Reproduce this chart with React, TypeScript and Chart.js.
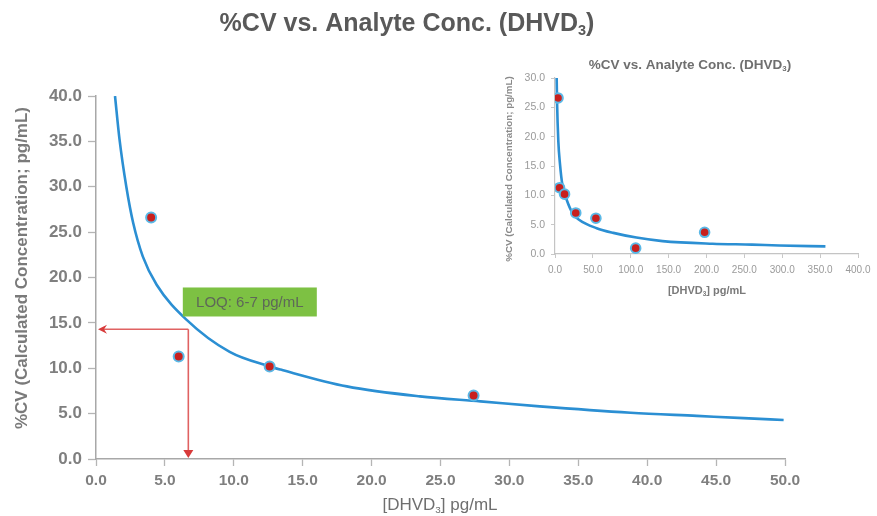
import React, { useEffect, useRef } from "react";
import { Chart, registerables } from "chart.js";

Chart.register(...registerables);

// ---------- data ----------
const mainCurveX = [1.38, 1.7, 2.2, 2.7, 3.4, 4.4, 6.6, 9.7, 12.6, 13.4, 18.2, 23.5, 27.9, 32.2, 38.8, 43.6, 47.0, 49.9];
const mainCurveY = [40.0, 35.3, 30.0, 26.0, 22.3, 19.2, 15.3, 11.8, 10.2, 9.85, 8.0, 6.9, 6.35, 5.8, 5.1, 4.75, 4.5, 4.3];
const measuredX = [4.0, 6.0, 12.6, 27.4];
const measuredY = [26.6, 11.3, 10.2, 7.0];

const insetCurveX = [1.38, 1.7, 2.2, 2.7, 4.4, 6.6, 9.7, 15.4, 23.5, 32.2, 55, 77, 107.5, 142, 208, 260, 296, 357];
const insetCurveY = [40.0, 35.3, 30.0, 26.0, 19.2, 15.3, 11.8, 9.25, 6.9, 5.8, 4.4, 3.6, 2.8, 2.2, 1.75, 1.6, 1.45, 1.3];
const insetMeasuredX = [4.0, 6.0, 12.6, 27.4, 54.0, 106.5, 197.5];
const insetMeasuredY = [26.6, 11.3, 10.2, 7.0, 6.1, 1.0, 3.7];

const mainXRange = [0, 50, 5];
const mainYRange = [0, 40, 5];
const insetXRange = [0, 400, 50];
const insetYRange = [0, 30, 5];

const loqX = 6.7;
const loqY = 14.3;
const loqLabel = "LOQ: 6-7 pg/mL";
const loqBoxAnchor = [6.3, 18.9]; // data coords of label box top-left

type Part = { t: string; sub?: boolean };
const titleParts: Part[] = [{ t: "%CV vs. Analyte Conc. (DHVD" }, { t: "3", sub: true }, { t: ")" }];
const xTitleParts: Part[] = [{ t: "[DHVD" }, { t: "3", sub: true }, { t: "] pg/mL" }];
const yTitle = "%CV (Calculated Concentration; pg/mL)";

const FAMILY = '"Liberation Sans", Arial, sans-serif';
const BLUE = "#2b8fd3";
const RED = "#c8201e";
const RING = "#5ab8e6";

function drawParts(
  ctx: CanvasRenderingContext2D,
  parts: Part[],
  x: number,
  y: number,
  size: number,
  weight: string,
  color: string
) {
  ctx.save();
  const subSize = size * 0.58;
  const fontOf = (s: number) => `${weight} ${s}px ${FAMILY}`;
  let total = 0;
  const widths = parts.map((p) => {
    ctx.font = fontOf(p.sub ? subSize : size);
    const w = ctx.measureText(p.t).width;
    total += w;
    return w;
  });
  let cx = x - total / 2;
  ctx.fillStyle = color;
  ctx.textBaseline = "alphabetic";
  ctx.textAlign = "left";
  parts.forEach((p, i) => {
    ctx.font = fontOf(p.sub ? subSize : size);
    ctx.fillText(p.t, cx, p.sub ? y + size * 0.16 : y);
    cx += widths[i];
  });
  ctx.restore();
}

function drawRotated(ctx: CanvasRenderingContext2D, text: string, cx: number, cy: number, size: number, weight: string, color: string) {
  ctx.save();
  ctx.translate(cx, cy);
  ctx.rotate(-Math.PI / 2);
  ctx.font = `${weight} ${size}px ${FAMILY}`;
  ctx.fillStyle = color;
  ctx.textAlign = "center";
  ctx.textBaseline = "middle";
  ctx.fillText(text, 0, 0);
  ctx.restore();
}

const toPts = (xs: number[], ys: number[]) => xs.map((x, i) => ({ x, y: ys[i] }));
const fmt = (v: any) => Number(v).toFixed(1);

export default function App() {
  const mainRef = useRef<HTMLCanvasElement>(null);
  const insetRef = useRef<HTMLCanvasElement>(null);

  useEffect(() => {
    const mainPlugin = {
      id: "mainDecor",
      beforeDatasetsDraw(chart: any) {
        const { ctx, scales } = chart;
        const xs = scales.x;
        const ys = scales.y;
        const px = xs.getPixelForValue(loqX);
        const py = ys.getPixelForValue(loqY);
        const x0 = xs.getPixelForValue(mainXRange[0]);
        const y0 = ys.getPixelForValue(mainYRange[0]);
        ctx.save();
        ctx.strokeStyle = "#e06262";
        ctx.lineWidth = 1.6;
        ctx.beginPath();
        ctx.moveTo(px, py);
        ctx.lineTo(x0 + 6, py);
        ctx.moveTo(px, py);
        ctx.lineTo(px, y0 - 6);
        ctx.stroke();
        ctx.fillStyle = "#d83a3a";
        ctx.beginPath();
        ctx.moveTo(x0 + 2, py);
        ctx.lineTo(x0 + 11, py - 4.5);
        ctx.lineTo(x0 + 8, py);
        ctx.lineTo(x0 + 11, py + 4.5);
        ctx.closePath();
        ctx.fill();
        ctx.beginPath();
        ctx.moveTo(px, y0 - 1);
        ctx.lineTo(px - 5, y0 - 9);
        ctx.lineTo(px + 5, y0 - 9);
        ctx.closePath();
        ctx.fill();
        ctx.restore();
      },
      afterDatasetsDraw(chart: any) {
        const { ctx, scales } = chart;
        const bx = scales.x.getPixelForValue(loqBoxAnchor[0]);
        const by = scales.y.getPixelForValue(loqBoxAnchor[1]);
        const bw = 134;
        const bh = 29;
        ctx.save();
        ctx.fillStyle = "#7dc143";
        ctx.fillRect(bx, by, bw, bh);
        ctx.font = `15px ${FAMILY}`;
        ctx.fillStyle = "#5e6858";
        ctx.textAlign = "center";
        ctx.textBaseline = "middle";
        ctx.fillText(loqLabel, bx + bw / 2, by + bh / 2 + 1);
        ctx.restore();
      },
      afterDraw(chart: any) {
        const { ctx } = chart;
        drawParts(ctx, titleParts, 407, 31, 25, "bold", "#595959");
        drawParts(ctx, xTitleParts, 440, 510, 17, "normal", "#6f6f6f");
        drawRotated(ctx, yTitle, 22, 268, 17, "bold", "#7a7a7a");
      },
    };

    const main = new Chart(mainRef.current as HTMLCanvasElement, {
      type: "scatter",
      data: {
        datasets: [
          {
            data: toPts(mainCurveX, mainCurveY),
            showLine: true,
            borderColor: BLUE,
            borderWidth: 2.6,
            pointRadius: 0,
            cubicInterpolationMode: "monotone",
            order: 2,
          } as any,
          {
            data: toPts(measuredX, measuredY),
            showLine: false,
            pointRadius: 5,
            pointBackgroundColor: RED,
            pointBorderColor: RING,
            pointBorderWidth: 2,
            order: 1,
          } as any,
        ],
      },
      options: {
        animation: false,
        responsive: false,
        devicePixelRatio: 1,
        layout: { padding: { top: 96, right: 92, bottom: 0, left: 0 } },
        plugins: { legend: { display: false }, tooltip: { enabled: false } },
        scales: {
          x: {
            type: "linear",
            min: mainXRange[0],
            max: mainXRange[1],
            afterFit: (s: any) => {
              s.height = 57;
            },
            ticks: {
              stepSize: mainXRange[2],
              callback: fmt,
              color: "#7f7f7f",
              font: { family: FAMILY, size: 15.5, weight: "bold" },
              padding: 5,
              maxRotation: 0,
            },
            grid: { drawOnChartArea: false, drawTicks: true, tickLength: 7, tickColor: "#b5b5b5", tickWidth: 1.3 },
            border: { display: true, color: "#a8a8a8", width: 1.5 },
          },
          y: {
            type: "linear",
            min: mainYRange[0],
            max: mainYRange[1],
            afterFit: (s: any) => {
              s.width = 96;
            },
            ticks: {
              stepSize: mainYRange[2],
              callback: fmt,
              color: "#7f7f7f",
              font: { family: FAMILY, size: 17, weight: "bold" },
              padding: 6,
            },
            grid: { drawOnChartArea: false, drawTicks: true, tickLength: 8, tickColor: "#b5b5b5", tickWidth: 1.3 },
            border: { display: true, color: "#a8a8a8", width: 1.5 },
          },
        },
      } as any,
      plugins: [mainPlugin],
    });

    const insetPlugin = {
      id: "insetDecor",
      afterDraw(chart: any) {
        const { ctx } = chart;
        drawParts(ctx, titleParts, 195, 17, 13.5, "bold", "#6f6f6f");
        drawParts(ctx, xTitleParts, 212, 242, 11, "bold", "#7a7a7a");
        drawRotated(ctx, yTitle, 14, 117, 9.8, "bold", "#8a8a8a");
      },
    };

    const inset = new Chart(insetRef.current as HTMLCanvasElement, {
      type: "scatter",
      data: {
        datasets: [
          {
            data: toPts(insetCurveX, insetCurveY),
            showLine: true,
            borderColor: BLUE,
            borderWidth: 2.6,
            pointRadius: 0,
            cubicInterpolationMode: "monotone",
            order: 2,
          } as any,
          {
            data: toPts(insetMeasuredX, insetMeasuredY),
            showLine: false,
            pointRadius: 4.8,
            pointBackgroundColor: RED,
            pointBorderColor: RING,
            pointBorderWidth: 2,
            order: 1,
          } as any,
        ],
      },
      options: {
        animation: false,
        responsive: false,
        devicePixelRatio: 1,
        layout: { padding: { top: 26, right: 19, bottom: 0, left: 0 } },
        plugins: { legend: { display: false }, tooltip: { enabled: false } },
        scales: {
          x: {
            type: "linear",
            min: insetXRange[0],
            max: insetXRange[1],
            afterFit: (s: any) => {
              s.height = 44;
            },
            ticks: {
              stepSize: insetXRange[2],
              callback: fmt,
              color: "#9a9a9a",
              font: { family: FAMILY, size: 10 },
              padding: 6,
              maxRotation: 0,
              autoSkip: false,
            },
            grid: { drawOnChartArea: false, drawTicks: true, tickLength: 4, tickColor: "#c8c8c8" },
            border: { display: true, color: "#c4c4c4", width: 1.2 },
          },
          y: {
            type: "linear",
            min: insetYRange[0],
            max: insetYRange[1],
            afterFit: (s: any) => {
              s.width = 60;
            },
            ticks: {
              stepSize: insetYRange[2],
              callback: fmt,
              color: "#9a9a9a",
              font: { family: FAMILY, size: 10.5 },
              padding: 6,
            },
            grid: { drawOnChartArea: false, drawTicks: true, tickLength: 4, tickColor: "#c8c8c8" },
            border: { display: true, color: "#c4c4c4", width: 1.2 },
          },
        },
      } as any,
      plugins: [insetPlugin],
    });

    return () => {
      main.destroy();
      inset.destroy();
    };
  }, []);

  return (
    <div style={{ position: "fixed", left: 0, top: 0, width: 877, height: 516, background: "#fff" }}>
      <canvas ref={mainRef} width={877} height={516} style={{ position: "absolute", left: 0, top: 0, width: 877, height: 516 }} />
      <canvas ref={insetRef} width={382} height={246} style={{ position: "absolute", left: 495, top: 52, width: 382, height: 246 }} />
    </div>
  );
}
